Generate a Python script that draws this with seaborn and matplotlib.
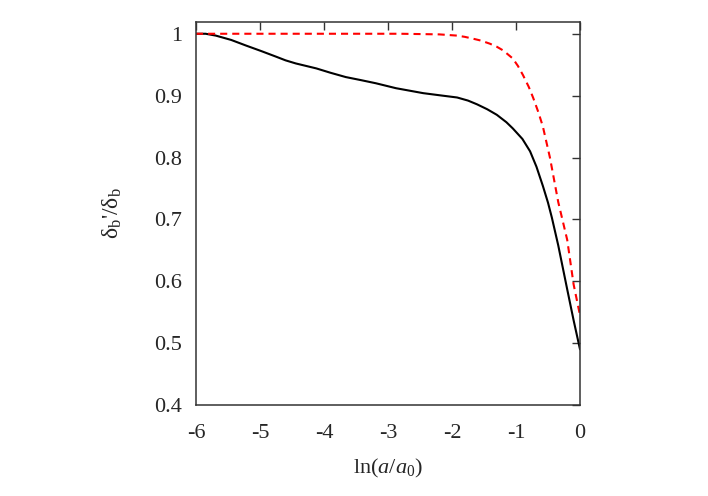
import numpy as np
import pandas as pd
import matplotlib
matplotlib.use("Agg")
import matplotlib.pyplot as plt
import seaborn as sns

# Data
black_x = [-6.0, -5.85, -5.69, -5.45, -5.22, -4.98, -4.75, -4.6, -4.44, -4.12, -3.9,
           -3.66, -3.42, -3.19, -2.875, -2.45, -2.15, -1.92, -1.75, -1.61, -1.45,
           -1.30, -1.15, -1.05, -0.9, -0.78, -0.68, -0.58, -0.5, -0.44, -0.34,
           -0.2, -0.1, 0.0]
black_y = [1.0, 1.0, 0.997, 0.990, 0.981, 0.972, 0.963, 0.957, 0.952, 0.944, 0.937,
           0.930, 0.925, 0.920, 0.912, 0.904, 0.900, 0.897, 0.892, 0.886, 0.878,
           0.869, 0.857, 0.847, 0.830, 0.810, 0.785, 0.754, 0.727, 0.703, 0.658,
           0.587, 0.537, 0.49]

red_x = [-6.0, -2.81, -2.2, -1.92, -1.8, -1.67, -1.55, -1.41, -1.3, -1.2, -1.05,
         -0.97, -0.89, -0.8, -0.73, -0.65, -0.58, -0.47, -0.34, -0.2, -0.1, 0.0]
red_y = [1.0, 1.0, 0.999, 0.997, 0.995, 0.992, 0.989, 0.984, 0.979, 0.973, 0.960,
         0.948, 0.933, 0.914, 0.896, 0.873, 0.850, 0.800, 0.728, 0.667, 0.595, 0.545]

x_ticks = [-6, -5, -4, -3, -2, -1, 0]
y_ticks = [0.4, 0.5, 0.6, 0.7, 0.8, 0.9, 1.0]
y_tick_labels = ["0.4", "0.5", "0.6", "0.7", "0.8", "0.9", "1"]

sns.set_style("white")
plt.rcParams["font.family"] = ["Liberation Serif", "DejaVu Serif"]
plt.rcParams["mathtext.fontset"] = "custom"
plt.rcParams["mathtext.rm"] = "Liberation Serif"
plt.rcParams["mathtext.it"] = "Liberation Serif:italic"

fig = plt.figure(figsize=(7.08, 4.96), dpi=100)
ax = fig.add_axes([196 / 708, 1 - 405 / 496, (580 - 196) / 708, (405 - 22) / 496])

df_b = pd.DataFrame({"x": black_x, "y": black_y})
df_r = pd.DataFrame({"x": red_x, "y": red_y})
sns.lineplot(data=df_b, x="x", y="y", ax=ax, color="black", lw=1.5, sort=False)
sns.lineplot(data=df_r, x="x", y="y", ax=ax, color="#ff0000", lw=1.5, sort=False,
             dashes=False, linestyle=(0, (3.4, 2.4)))

ax.set_xlim(-6, 0)
ax.set_ylim(0.4, 1.019)
ax.set_xticks(x_ticks)
ax.set_xticklabels([str(v) for v in x_ticks])
ax.set_yticks(y_ticks)
ax.set_yticklabels(y_tick_labels)
ax.tick_params(direction="in", length=6, width=1, top=True, right=True,
               labelsize=16, color="#333333")
ax.tick_params(axis="x", pad=14)
ax.tick_params(axis="y", pad=10)
for s in ax.spines.values():
    s.set_visible(True)
    s.set_color("#333333")
    s.set_linewidth(1.1)

ax.set_xlabel(r"ln($a$/$a_0$)", fontsize=16, labelpad=10)
ax.set_ylabel(r"δ$_\mathrm{b}$'/δ$_\mathrm{b}$", fontsize=17, labelpad=22)

fig.savefig("out.png", dpi=100)
